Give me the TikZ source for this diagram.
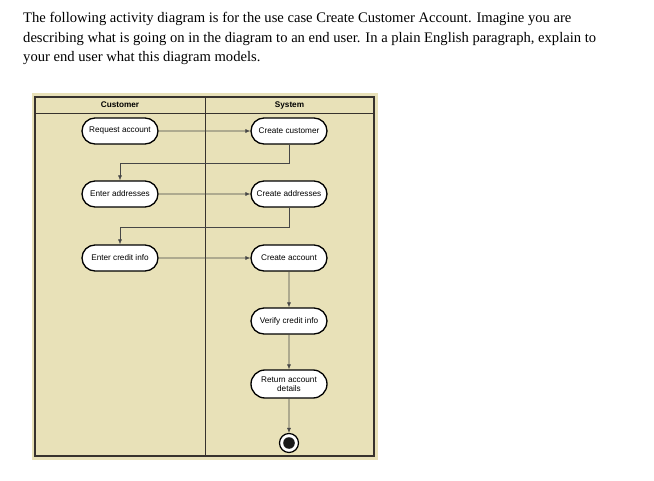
\documentclass[tikz,border=0pt]{standalone}
\usepackage{fontspec}
\setmainfont{Liberation Serif}
\newfontfamily\diagfont{Liberation Sans}
\usetikzlibrary{arrows.meta,shapes.misc}
\definecolor{lanebg}{RGB}{232,225,184}
\definecolor{framec}{RGB}{55,50,45}
\definecolor{flowc}{RGB}{70,70,70}
\tikzset{
  act/.style={draw=black, fill=white, line width=1.3pt, rounded rectangle,
    minimum width=78pt, minimum height=26pt, inner sep=1pt, align=center,
    font=\diagfont\fontsize{8.2}{9.5}\selectfont},
  flow/.style={draw=flowc, line width=0.6pt, -{Latex[length=5pt,width=4pt]}},
  lanehead/.style={font=\diagfont\bfseries\fontsize{8.2}{9.5}\selectfont}
}
\begin{document}
\begin{tikzpicture}[x=1pt,y=-1pt]
\useasboundingbox (0,0) rectangle (654,481);
\fill[white] (0,0) rectangle (654,481);
% question text
\node[anchor=north west, align=left, inner sep=0pt,
  font=\fontsize{14.6}{19.5}\selectfont] (q) at (23,12.3)
  {The following activity diagram is for the use case Create Customer Account. Imagine you are\\
   describing what is going on in the diagram to an end user. In a plain English paragraph, explain to\\
   your end user what this diagram models.};
% swimlanes
\fill[lanebg] (32,93) rectangle (378,460);
\draw[framec, line width=1.1pt] (35,97) rectangle (374,456);
\draw[framec, line width=0.9pt] (35,113) -- (374,113);
\draw[framec, line width=0.9pt] (205,97) -- (205,456);
\node[lanehead] (hc) at (120,105) {Customer};
\node[lanehead] (hs) at (289.5,105) {System};
% activities
\node[act] (ra) at (120,131) {Request account};
\node[act] (cc) at (289,131) {Create customer};
\node[act] (ea) at (120,194) {Enter addresses};
\node[act] (ca) at (289,194) {Create addresses};
\node[act] (ec) at (120,258) {Enter credit info};
\node[act] (cac) at (289,258) {Create account};
\node[act] (vc) at (289,321) {Verify credit info};
\node[act, minimum height=28pt] (rd) at (289,384) {Return account\\details};
% end node
\node[circle, draw=black, fill=white, line width=1.2pt, minimum size=19pt, inner sep=0pt] (fin) at (289,443) {};
\fill[black!90] (fin.center) circle (5.8pt);
% flows
\draw[flow] (ra) -- (cc);
\draw[flow] (cc.south) -- (289,163) -| (ea.north);
\draw[flow] (ea) -- (ca);
\draw[flow] (ca.south) -- (289,227) -| (ec.north);
\draw[flow] (ec) -- (cac);
\draw[flow] (cac) -- (vc);
\draw[flow] (vc) -- (rd);
\draw[flow] (rd) -- (fin);
\end{tikzpicture}
\end{document}
